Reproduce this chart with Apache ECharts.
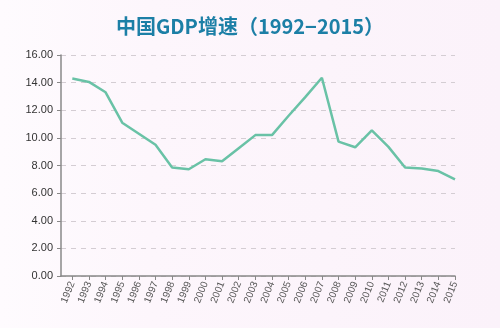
<!DOCTYPE html>
<html>
<head>
<meta charset="utf-8">
<script src="https://cdn.jsdelivr.net/npm/echarts@6/dist/echarts.min.js"></script>
<style>
html,body{margin:0;padding:0;background:#fdf6fc;}
#chart{width:500px;height:328px;}
</style>
</head>
<body>
<div id="chart"></div>
<script>
var years = [1992,1993,1994,1995,1996,1997,1998,1999,2000,2001,2002,2003,2004,2005,2006,2007,2008,2009,2010,2011,2012,2013,2014,2015];
var growth = [14.3,14.05,13.3,11.1,10.3,9.5,7.85,7.73,8.45,8.3,9.25,10.2,10.2,11.6,12.95,14.35,9.73,9.32,10.55,9.35,7.85,7.78,7.6,7.0];
var yTicks = [0,2,4,6,8,10,12,14,16];

var chart = echarts.init(document.getElementById('chart'), null, {renderer:'canvas'});
chart.setOption({
  backgroundColor: {
    type:'linear', x:0, y:0, x2:1, y2:0,
    colorStops:[{offset:0,color:'#fefbfe'},{offset:0.3,color:'#fdf6fc'},{offset:1,color:'#fbf2fa'}]
  },
  title: {
    text: '中国GDP增速（1992−2015）',
    left: 'center',
    top: 11,
    textStyle: {color:'#1c7fa6', fontSize:20, fontWeight:'bold', fontFamily:'Noto Sans CJK SC'}
  },
  grid: {left:61, right:45, top:55, bottom:52},
  xAxis: {
    type:'value',
    min:1991.32,
    max:2015,
    splitLine:{show:false},
    axisLine:{show:true, lineStyle:{color:'#888', width:1.5}},
    axisTick:{show:true, customValues:years, length:4, lineStyle:{color:'#888'}},
    axisLabel:{show:true, customValues:years, rotate:68, color:'#555', fontSize:10, fontFamily:'Liberation Sans', margin:6,
      formatter:function(v){return String(v);}}
  },
  yAxis: {
    type:'value',
    min:0, max:16, interval:2,
    axisLine:{show:true, lineStyle:{color:'#888', width:1.5}},
    axisTick:{show:true, length:4, lineStyle:{color:'#888'}},
    axisLabel:{color:'#333', fontSize:11, fontFamily:'Liberation Sans', margin:8,
      formatter:function(v){return v.toFixed(2);}},
    splitLine:{show:true, lineStyle:{color:'#d4cdd3', type:[5,5], width:1}}
  },
  series: [{
    type:'line',
    data: years.map(function(y,i){return [y, growth[i]];}),
    symbol:'none',
    lineStyle:{color:'#69c2a6', width:2.5},
    itemStyle:{color:'#69c2a6'}
  }]
});
</script>
</body>
</html>
